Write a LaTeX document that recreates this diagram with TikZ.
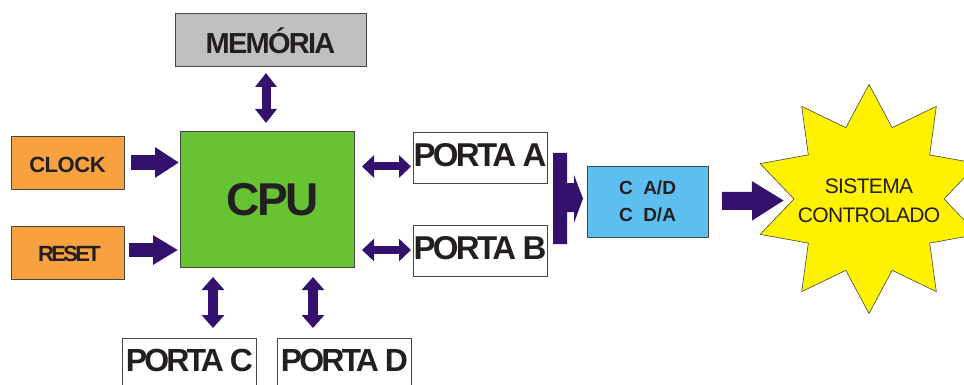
\documentclass[tikz,border=0pt]{standalone}
\usepackage{fontspec}
\setmainfont{Liberation Sans}
\usetikzlibrary{arrows.meta,calc}

\definecolor{memgray}{RGB}{192,192,192}
\definecolor{clkorange}{RGB}{248,161,64}
\definecolor{cpugreen}{RGB}{103,194,52}
\definecolor{convblue}{RGB}{94,190,240}
\definecolor{busviolet}{RGB}{51,17,108}
\definecolor{inkdark}{RGB}{35,31,32}
\definecolor{edgegray}{RGB}{70,70,70}

\tikzset{
  box/.style={draw=edgegray, line width=0.8pt, inner sep=0pt, outer sep=0pt,
              text=inkdark, align=center},
  portbox/.style={box, fill=white, minimum width=134pt, minimum height=51pt,
              font=\fontsize{33}{33}\selectfont\bfseries\addfontfeature{LetterSpace=-8}},
  widearrow/.style n args={3}{draw=busviolet, line width=#1,
              -{Triangle[width=#2,length=#3]}},
  twoway/.style n args={3}{draw=busviolet, line width=#1,
              {Triangle[width=#2,length=#3]}-{Triangle[width=#2,length=#3]}},
  starshape/.style={fill=yellow, draw=edgegray, line width=0.6pt, line join=miter}
}

\begin{document}
\begin{tikzpicture}[x=1pt,y=-1pt]
\useasboundingbox (0,0) rectangle (964,385);
\clip (0,0) rectangle (964,385);

% processor and its neighbours
\node[box, fill=cpugreen, minimum width=174pt, minimum height=136pt,
      text height=33pt, text depth=1pt,
      font=\fontsize{46}{46}\selectfont\bfseries\addfontfeature{LetterSpace=-6}]
      (cpu) at (267,199) {\hspace*{11pt}CPU};
\node[box, fill=memgray, minimum width=191pt, minimum height=53pt,
      text height=29pt, text depth=0pt,
      font=\fontsize{29}{29}\selectfont\bfseries\addfontfeature{LetterSpace=-6}]
      (mem) at (270.5,39.5) {MEMÓRIA};
\node[box, fill=clkorange, minimum width=113pt, minimum height=53pt,
      text height=19pt, text depth=0pt,
      font=\fontsize{22}{22}\selectfont\bfseries\addfontfeature{LetterSpace=-2}]
      (clock) at (67.5,162.5) {CLOCK};
\node[box, fill=clkorange, minimum width=113pt, minimum height=53pt,
      text height=17pt, text depth=0pt,
      font=\fontsize{22}{22}\selectfont\bfseries\addfontfeature{LetterSpace=-12}]
      (reset) at (67.5,252.5) {\hspace*{4pt}RESET};

% I/O ports
\node[portbox, text height=24pt, text depth=5pt] (pa) at (480,157.5) {PORTA A};
\node[portbox, text height=24pt, text depth=7pt] (pb) at (480,250.5) {PORTA B};
\node[portbox, font=\fontsize{32}{32}\selectfont\bfseries\addfontfeature{LetterSpace=-9},
      text height=23pt, text depth=8pt] (pc) at (189.5,363.5) {PORTA C};
\node[portbox, font=\fontsize{32}{32}\selectfont\bfseries\addfontfeature{LetterSpace=-9},
      text height=23pt, text depth=8pt] (pd) at (344.5,363.5) {PORTA D};

% converters
\node[box, fill=convblue, minimum width=121pt, minimum height=71pt,
      font=\fontsize{19}{27}\selectfont\bfseries]
      (conv) at (647.5,201.5) {C\ \ A/D\\C\ \ D/A};

% controlled system (ten-pointed star)
\coordinate (sc) at (869,199);
\draw[starshape, shift={(sc)}] (90:114.5pt)
  \foreach \a in {0,36,...,324} { -- ({\a+108}:75pt) -- ({\a+126}:114.5pt) } -- cycle;
\node[text=inkdark, align=center, inner sep=0pt,
      font=\fontsize{21}{29}\selectfont\addfontfeature{LetterSpace=-3}]
      (sist) at ($(sc)+(0,1.5)$) {SISTEMA\\CONTROLADO};

% inputs to the processor
\draw[widearrow={15pt}{29pt}{24pt}]
  ($(clock.east)+(7,0)$) -- ($(cpu.west |- clock.east)+(-1,0)$);
\draw[widearrow={14pt}{28pt}{25pt}]
  ($(reset.east)+(5,-2.5)$) -- ($(cpu.west |- reset.east)+(-2,-2.5)$);

% bidirectional buses
\draw[twoway={9pt}{21pt}{14pt}]
  ($(mem.south)+(-4.5,7)$) -- ($(cpu.north)+(-1,-8)$);
\draw[twoway={8pt}{22pt}{12pt}]
  ($(cpu.east |- pa.west)+(8,9)$) -- ($(pa.west)+(-2,9)$);
\draw[twoway={8pt}{22pt}{12pt}]
  ($(cpu.east |- pb.west)+(8,-0.5)$) -- ($(pb.west)+(-2,-0.5)$);
\draw[twoway={10pt}{22pt}{13pt}]
  ($(pc.north |- cpu.south)+(23.5,10)$) -- ($(pc.north)+(23.5,-10)$);
\draw[twoway={10pt}{22pt}{13pt}]
  ($(pd.north |- cpu.south)+(-31.5,10)$) -- ($(pd.north)+(-31.5,-10)$);

% ports A and B merged into the converter
\fill[busviolet, shift={(conv.west)}]
  (-34,-48.5) -- (-20,-48.5) -- (-20,-18.5) -- (-13,-18.5) -- (-13,-26.5)
  -- (-4,-3) -- (-13,21.5) -- (-13,10.5) -- (-20,10.5) -- (-20,42.5)
  -- (-34,42.5) -- cycle;

% converter drives the controlled system
\draw[widearrow={18pt}{37pt}{32pt}]
  ($(conv.east)+(14,-0.5)$) -- ($(sist.center)+(-85,0)$);
\end{tikzpicture}
\end{document}
